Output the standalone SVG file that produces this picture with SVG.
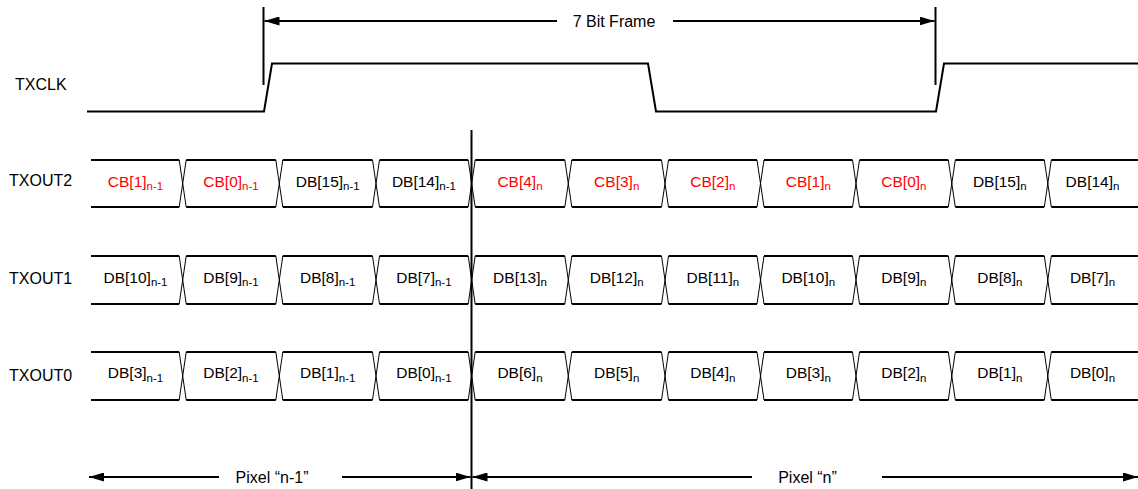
<svg xmlns="http://www.w3.org/2000/svg" width="1138" height="489" viewBox="0 0 1138 489">
<defs>
<style>
.lbl{font-family:"Liberation Sans",Arial,sans-serif;font-size:16px;fill:#000}
.cell{font-family:"Liberation Sans",Arial,sans-serif;font-size:15.5px;fill:#000;text-anchor:middle}
.red{fill:#ff0000}
.sub{font-size:11.5px}
.wire{fill:none;stroke:#000;stroke-width:2}
.x{fill:none;stroke:#000;stroke-width:1}
.arr{fill:none;stroke:#000;stroke-width:2;marker-end:url(#ah)}
</style>
<marker id="ah" viewBox="0 0 15 9" refX="15" refY="4.5" markerWidth="15" markerHeight="9" orient="auto" markerUnits="userSpaceOnUse">
<path d="M0,0 L15,4.5 L0,9 z" fill="#000"/>
</marker>
</defs>
<rect width="1138" height="489" fill="#fff"/>

<g id="labels">
<text class="lbl" x="15" y="90">TXCLK</text>
<text class="lbl" x="9" y="186">TXOUT2</text>
<text class="lbl" x="9" y="284">TXOUT1</text>
<text class="lbl" x="9" y="381">TXOUT0</text>
</g>

<g id="txclk">
<path class="wire" d="M87,111.5 H264 L272,63.5 H648 L656,111.5 H936 L944,63.5 H1140"/>
</g>

<g id="txout2">
<path class="wire" d="M91,160H179.2M186.2,160H275.8M282.8,160H372.5M379.5,160H468.2M475.2,160H564.8M571.8,160H661.5M668.5,160H757M764,160H852.5M859.5,160H948.3M955.3,160H1044.3M1051.3,160H1140 M91,207H179.2M186.2,207H275.8M282.8,207H372.5M379.5,207H468.2M475.2,207H564.8M571.8,207H661.5M668.5,207H757M764,207H852.5M859.5,207H948.3M955.3,207H1044.3M1051.3,207H1140"/>
<path class="x" d="M179.2,160L186.2,207M179.2,207L186.2,160 M275.8,160L282.8,207M275.8,207L282.8,160 M372.5,160L379.5,207M372.5,207L379.5,160 M468.2,160L475.2,207M468.2,207L475.2,160 M564.8,160L571.8,207M564.8,207L571.8,160 M661.5,160L668.5,207M661.5,207L668.5,160 M757,160L764,207M757,207L764,160 M852.5,160L859.5,207M852.5,207L859.5,160 M948.3,160L955.3,207M948.3,207L955.3,160 M1044.3,160L1051.3,207M1044.3,207L1051.3,160"/>
<text class="cell red" x="135.5" y="186.5">CB[1]<tspan class="sub" dy="3.5">n-1</tspan></text>
<text class="cell red" x="231" y="186.5">CB[0]<tspan class="sub" dy="3.5">n-1</tspan></text>
<text class="cell" x="327.7" y="186.5">DB[15]<tspan class="sub" dy="3.5">n-1</tspan></text>
<text class="cell" x="423.9" y="186.5">DB[14]<tspan class="sub" dy="3.5">n-1</tspan></text>
<text class="cell red" x="520" y="186.5">CB[4]<tspan class="sub" dy="3.5">n</tspan></text>
<text class="cell red" x="616.7" y="186.5">CB[3]<tspan class="sub" dy="3.5">n</tspan></text>
<text class="cell red" x="712.8" y="186.5">CB[2]<tspan class="sub" dy="3.5">n</tspan></text>
<text class="cell red" x="808.3" y="186.5">CB[1]<tspan class="sub" dy="3.5">n</tspan></text>
<text class="cell red" x="903.9" y="186.5">CB[0]<tspan class="sub" dy="3.5">n</tspan></text>
<text class="cell" x="999.8" y="186.5">DB[15]<tspan class="sub" dy="3.5">n</tspan></text>
<text class="cell" x="1092.5" y="186.5">DB[14]<tspan class="sub" dy="3.5">n</tspan></text>
</g>

<g id="txout1">
<path class="wire" d="M91,256H179.2M186.2,256H275.8M282.8,256H372.5M379.5,256H468.2M475.2,256H564.8M571.8,256H661.5M668.5,256H757M764,256H852.5M859.5,256H948.3M955.3,256H1044.3M1051.3,256H1140 M91,304H179.2M186.2,304H275.8M282.8,304H372.5M379.5,304H468.2M475.2,304H564.8M571.8,304H661.5M668.5,304H757M764,304H852.5M859.5,304H948.3M955.3,304H1044.3M1051.3,304H1140"/>
<path class="x" d="M179.2,256L186.2,304M179.2,304L186.2,256 M275.8,256L282.8,304M275.8,304L282.8,256 M372.5,256L379.5,304M372.5,304L379.5,256 M468.2,256L475.2,304M468.2,304L475.2,256 M564.8,256L571.8,304M564.8,304L571.8,256 M661.5,256L668.5,304M661.5,304L668.5,256 M757,256L764,304M757,304L764,256 M852.5,256L859.5,304M852.5,304L859.5,256 M948.3,256L955.3,304M948.3,304L955.3,256 M1044.3,256L1051.3,304M1044.3,304L1051.3,256"/>
<text class="cell" x="135.5" y="282.5">DB[10]<tspan class="sub" dy="3.5">n-1</tspan></text>
<text class="cell" x="231" y="282.5">DB[9]<tspan class="sub" dy="3.5">n-1</tspan></text>
<text class="cell" x="327.7" y="282.5">DB[8]<tspan class="sub" dy="3.5">n-1</tspan></text>
<text class="cell" x="423.9" y="282.5">DB[7]<tspan class="sub" dy="3.5">n-1</tspan></text>
<text class="cell" x="520" y="282.5">DB[13]<tspan class="sub" dy="3.5">n</tspan></text>
<text class="cell" x="616.7" y="282.5">DB[12]<tspan class="sub" dy="3.5">n</tspan></text>
<text class="cell" x="712.8" y="282.5">DB[11]<tspan class="sub" dy="3.5">n</tspan></text>
<text class="cell" x="808.3" y="282.5">DB[10]<tspan class="sub" dy="3.5">n</tspan></text>
<text class="cell" x="903.9" y="282.5">DB[9]<tspan class="sub" dy="3.5">n</tspan></text>
<text class="cell" x="999.8" y="282.5">DB[8]<tspan class="sub" dy="3.5">n</tspan></text>
<text class="cell" x="1092.5" y="282.5">DB[7]<tspan class="sub" dy="3.5">n</tspan></text>
</g>

<g id="txout0">
<path class="wire" d="M91,352H179.2M186.2,352H275.8M282.8,352H372.5M379.5,352H468.2M475.2,352H564.8M571.8,352H661.5M668.5,352H757M764,352H852.5M859.5,352H948.3M955.3,352H1044.3M1051.3,352H1140 M91,400H179.2M186.2,400H275.8M282.8,400H372.5M379.5,400H468.2M475.2,400H564.8M571.8,400H661.5M668.5,400H757M764,400H852.5M859.5,400H948.3M955.3,400H1044.3M1051.3,400H1140"/>
<path class="x" d="M179.2,352L186.2,400M179.2,400L186.2,352 M275.8,352L282.8,400M275.8,400L282.8,352 M372.5,352L379.5,400M372.5,400L379.5,352 M468.2,352L475.2,400M468.2,400L475.2,352 M564.8,352L571.8,400M564.8,400L571.8,352 M661.5,352L668.5,400M661.5,400L668.5,352 M757,352L764,400M757,400L764,352 M852.5,352L859.5,400M852.5,400L859.5,352 M948.3,352L955.3,400M948.3,400L955.3,352 M1044.3,352L1051.3,400M1044.3,400L1051.3,352"/>
<text class="cell" x="135.5" y="378">DB[3]<tspan class="sub" dy="3.5">n-1</tspan></text>
<text class="cell" x="231" y="378">DB[2]<tspan class="sub" dy="3.5">n-1</tspan></text>
<text class="cell" x="327.7" y="378">DB[1]<tspan class="sub" dy="3.5">n-1</tspan></text>
<text class="cell" x="423.9" y="378">DB[0]<tspan class="sub" dy="3.5">n-1</tspan></text>
<text class="cell" x="520" y="378">DB[6]<tspan class="sub" dy="3.5">n</tspan></text>
<text class="cell" x="616.7" y="378">DB[5]<tspan class="sub" dy="3.5">n</tspan></text>
<text class="cell" x="712.8" y="378">DB[4]<tspan class="sub" dy="3.5">n</tspan></text>
<text class="cell" x="808.3" y="378">DB[3]<tspan class="sub" dy="3.5">n</tspan></text>
<text class="cell" x="903.9" y="378">DB[2]<tspan class="sub" dy="3.5">n</tspan></text>
<text class="cell" x="999.8" y="378">DB[1]<tspan class="sub" dy="3.5">n</tspan></text>
<text class="cell" x="1092.5" y="378">DB[0]<tspan class="sub" dy="3.5">n</tspan></text>
</g>

<g id="connectors">
<path class="wire" d="M263.5,7V85 M935.5,7V85 M471.5,130V489"/>
<path class="arr" d="M557,21H264.5"/>
<path class="arr" d="M673,21H934.5"/>
<path class="arr" d="M219,477H89"/>
<path class="arr" d="M342,477H470.5"/>
<path class="arr" d="M752,477H472.5"/>
<path class="arr" d="M882,477H1138"/>
</g>

<g id="annotations">
<text class="lbl" x="614" y="26.5" text-anchor="middle">7 Bit Frame</text>
<text class="lbl" x="272" y="482.5" text-anchor="middle">Pixel “n-1”</text>
<text class="lbl" x="807.5" y="482.5" text-anchor="middle">Pixel “n”</text>
</g>
</svg>
